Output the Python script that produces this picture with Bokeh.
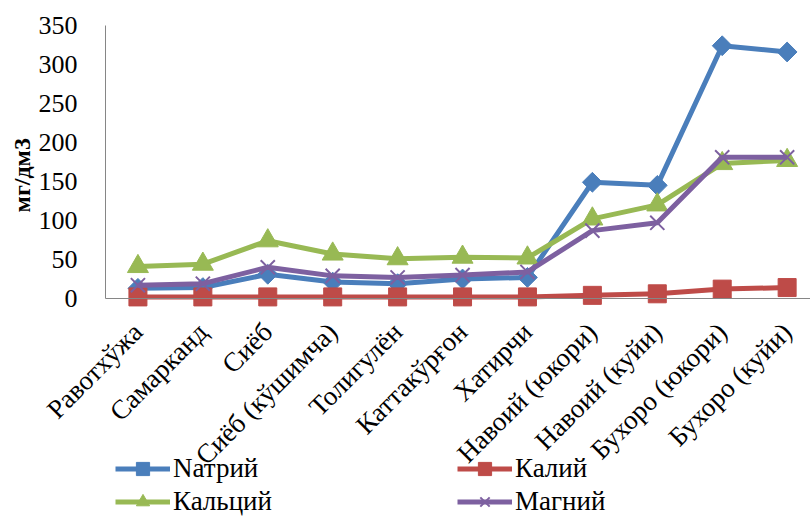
import math
from bokeh.plotting import figure
from bokeh.models import (Range1d, FixedTicker, Legend, LegendItem, ColumnDataSource, Label)
from bokeh.embed import file_html
from bokeh.resources import INLINE

categories = ["Равотхўжа", "Самарканд", "Сиёб", "Сиёб (кўшимча)", "Толигулён",
              "Каттакўрғон", "Хатирчи", "Навоий (юкори)", "Навоий (куйи)",
              "Бухоро (юкори)", "Бухоро (куйи)"]
natriy = [13, 14, 31, 21, 19, 25, 27, 149, 145, 324, 316]
kaliy = [2, 2, 2, 2, 2, 2, 2, 4, 6, 12, 14]
kalsiy = [41, 44, 74, 57, 51, 53, 52, 102, 120, 173, 177]
magniy = [17, 19, 40, 29, 27, 30, 34, 87, 97, 181, 181]
y_ticks = [0, 50, 100, 150, 200, 250, 300, 350]

FONT = "Liberation Serif"
idx = list(range(len(categories)))

X0, X1 = -0.5, 10.36      # plot-area extent in category units
p = figure(width=810, height=516, output_backend="svg", toolbar_location=None,
           x_range=Range1d(-2.117, X1), y_range=Range1d(-279.5, 382),
           min_border_left=0, min_border_right=0, min_border_top=0,
           min_border_bottom=0)
p.outline_line_color = None
p.grid.visible = False
p.background_fill_color = "white"

# y axis, drawn at the left edge of the plot area
ya = p.yaxis[0]
ya.fixed_location = X0
ya.ticker = FixedTicker(ticks=y_ticks)
ya.bounds = (0, 350)
ya.axis_line_color = "#868686"
ya.major_tick_line_color = None
ya.minor_tick_line_color = None
ya.major_label_text_font = FONT
ya.major_label_text_font_size = "26px"
ya.major_label_text_color = "black"
ya.major_label_standoff = 22

p.add_layout(Label(x=-1.78, y=158, text="мг/дм3", angle=math.pi / 2,
                   text_align="center", text_baseline="middle",
                   text_font=FONT, text_font_style="bold",
                   text_font_size="24px", text_color="black"))

# category axis at y = 0
xa = p.xaxis[0]
xa.fixed_location = 0
xa.bounds = (X0, X1)
xa.ticker = FixedTicker(ticks=idx)
xa.major_label_overrides = {i: c for i, c in zip(idx, categories)}
xa.axis_line_color = "#868686"
xa.major_tick_line_color = None
xa.minor_tick_line_color = None
xa.major_label_orientation = math.pi / 4
xa.major_label_text_font = FONT
xa.major_label_text_font_size = "27px"
xa.major_label_text_color = "black"
xa.major_label_standoff = 23

src = ColumnDataSource(dict(x=idx, na=natriy, k=kaliy, ca=kalsiy, mg=magniy))

blue, red, green, purple = "#4A7EBB", "#BE4B48", "#98B954", "#7D60A0"

l1 = p.line("x", "na", source=src, line_color=blue, line_width=5)
m1 = p.scatter("x", "na", source=src, marker="square", angle=math.pi / 4, size=14,
               fill_color=blue, line_color=blue)
l2 = p.line("x", "k", source=src, line_color=red, line_width=5)
m2 = p.scatter("x", "k", source=src, marker="square", size=18,
               fill_color=red, line_color=red)
l3 = p.line("x", "ca", source=src, line_color=green, line_width=5)
m3 = p.scatter("x", "ca", source=src, marker="triangle", size=21,
               fill_color=green, line_color=green)
l4 = p.line("x", "mg", source=src, line_color=purple, line_width=5)
m4 = p.scatter("x", "mg", source=src, marker="x", size=20,
               line_color=purple, line_width=2)

def make_legend(items, loc):
    return Legend(items=items, location=loc, orientation="vertical",
                  label_text_font=FONT, label_text_font_size="27px",
                  label_text_color="black", glyph_width=55, glyph_height=33,
                  label_height=30, label_standoff=3, spacing=0, padding=0,
                  margin=0, border_line_color=None, background_fill_alpha=0)

leg1 = make_legend([LegendItem(label="Nатрий", renderers=[l1, m1]),
                    LegendItem(label="Кальций", renderers=[l3, m3])], (115, -2))
leg2 = make_legend([LegendItem(label="Калий", renderers=[l2, m2]),
                    LegendItem(label="Магний", renderers=[l4, m4])], (457, -2))
p.add_layout(leg1, "center")
p.add_layout(leg2, "center")

open("out.html", "w").write(file_html(p, INLINE))
